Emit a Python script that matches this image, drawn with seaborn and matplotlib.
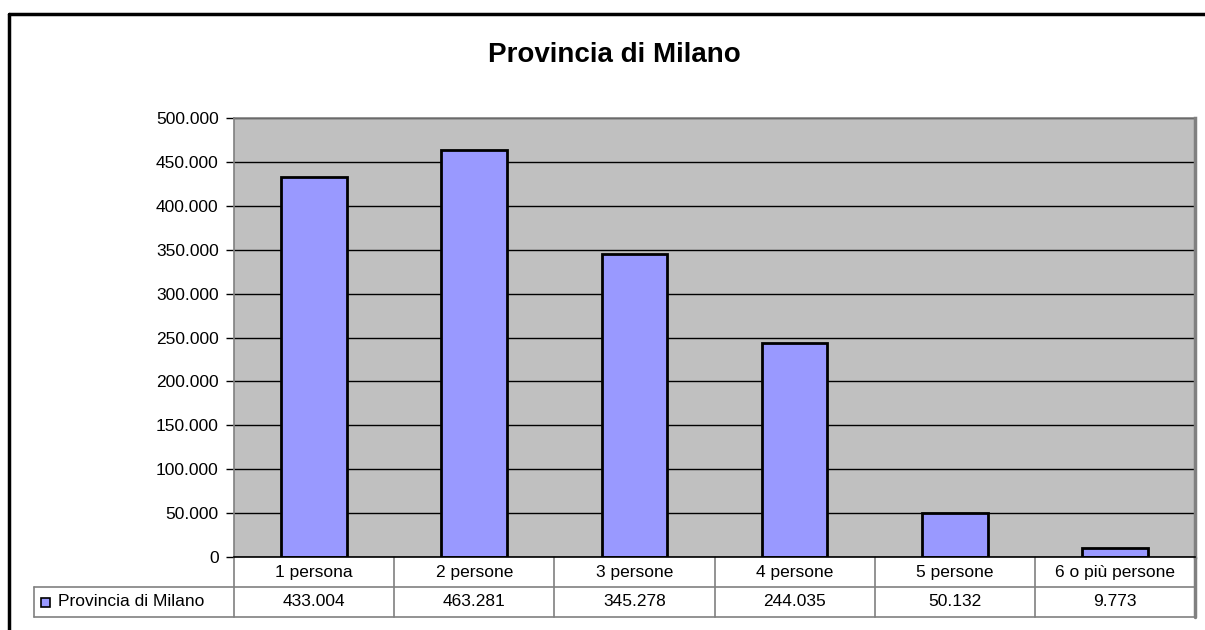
import matplotlib
matplotlib.use('Agg')
import matplotlib.pyplot as plt
from matplotlib.lines import Line2D
from matplotlib.patches import Rectangle
import pandas as pd
import seaborn as sns

# dati
categorie = ['1 persona', '2 persone', '3 persone', '4 persone', '5 persone', '6 o più persone']
valori = [433004, 463281, 345278, 244035, 50132, 9773]
serie = 'Provincia di Milano'
titolo = 'Provincia di Milano'
y_ticks = list(range(0, 500001, 50000))


def fmt_it(v):
    return f'{v:,}'.replace(',', '.')


sns.set_theme(style='white')
plt.rcParams['font.family'] = ['Liberation Sans', 'DejaVu Sans']
plt.rcParams['text.color'] = 'black'
plt.rcParams['ytick.labelcolor'] = 'black'

df = pd.DataFrame({'Categoria': categorie, 'Valore': valori})

fig = plt.figure(figsize=(12.05, 6.30), dpi=100)
W, H = 1205, 630
ax = fig.add_axes([234 / W, 1 - 557 / H, (1195 - 234) / W, (557 - 118) / H])
ax.set_facecolor('#C0C0C0')

sns.barplot(data=df, x='Categoria', y='Valore', color='#9999FF', saturation=1,
            edgecolor='black', linewidth=2, width=0.41, ax=ax)

ax.set_ylim(0, 500000)
ax.set_xlim(-0.5, len(categorie) - 0.5)
ax.set_yticks(y_ticks)
ax.set_yticklabels([fmt_it(v) for v in y_ticks], fontsize=12.5, color='black')
ax.set_xticks([])
ax.set_xlabel('')
ax.set_ylabel('')
ax.tick_params(axis='y', left=True, length=6, width=1, color='black', pad=5)
ax.set_axisbelow(True)
ax.yaxis.grid(True, color='black', linewidth=1)

for s in ['top', 'left']:
    ax.spines[s].set_color('#808080')
    ax.spines[s].set_linewidth(1.2)
ax.spines['right'].set_color('#808080')
ax.spines['right'].set_linewidth(2.5)
ax.spines['bottom'].set_color('black')
ax.spines['bottom'].set_linewidth(1.2)

# tabella dati sotto il grafico
row_h = 30 / (557 - 118)
n = len(categorie)
tr = ax.transAxes
grid_col = '#808080'
left_x = (34 - 234) / (1195 - 234)

def hline(x0, x1, y):
    ax.add_line(Line2D([x0, x1], [y, y], transform=tr, color=grid_col, lw=1.2, clip_on=False))

def vline(x, y0, y1, lw=1.2):
    ax.add_line(Line2D([x, x], [y0, y1], transform=tr, color=grid_col, lw=lw, clip_on=False))

hline(left_x, 1, -row_h)
hline(left_x, 1, -2 * row_h)
for i in range(n + 1):
    vline(i / n, 0, -2 * row_h, lw=2.5 if i == n else 1.2)
vline(left_x, -row_h, -2 * row_h)

for i, (c, v) in enumerate(zip(categorie, valori)):
    xc = (i + 0.5) / n
    ax.text(xc, -0.5 * row_h, c, transform=tr, ha='center', va='center', fontsize=12.5)
    ax.text(xc, -1.5 * row_h, fmt_it(v), transform=tr, ha='center', va='center', fontsize=12.5)

# legenda nella tabella
sq = 9 / (1195 - 234)
sq_h = 9 / (557 - 118)
ax.add_patch(Rectangle((left_x + 7 / 961, -1.5 * row_h - sq_h / 2), sq, sq_h, transform=tr,
                       facecolor='#9999FF', edgecolor='black', lw=1.2, clip_on=False))
ax.text(left_x + 24 / 961, -1.5 * row_h, serie, transform=tr, ha='left', va='center', fontsize=12.5)

# titolo
fig.text(614 / W, 1 - 55 / H, titolo, ha='center', va='center', fontsize=20, fontweight='bold')

# cornice esterna
fig.add_artist(Line2D([8.5 / W, 8.5 / W], [0, 1 - 13.5 / H], transform=fig.transFigure,
                      color='black', lw=2.5))
fig.add_artist(Line2D([8.5 / W, 1], [1 - 13.5 / H, 1 - 13.5 / H], transform=fig.transFigure,
                      color='black', lw=2.5))

fig.savefig('out.png', dpi=100, facecolor='white')
